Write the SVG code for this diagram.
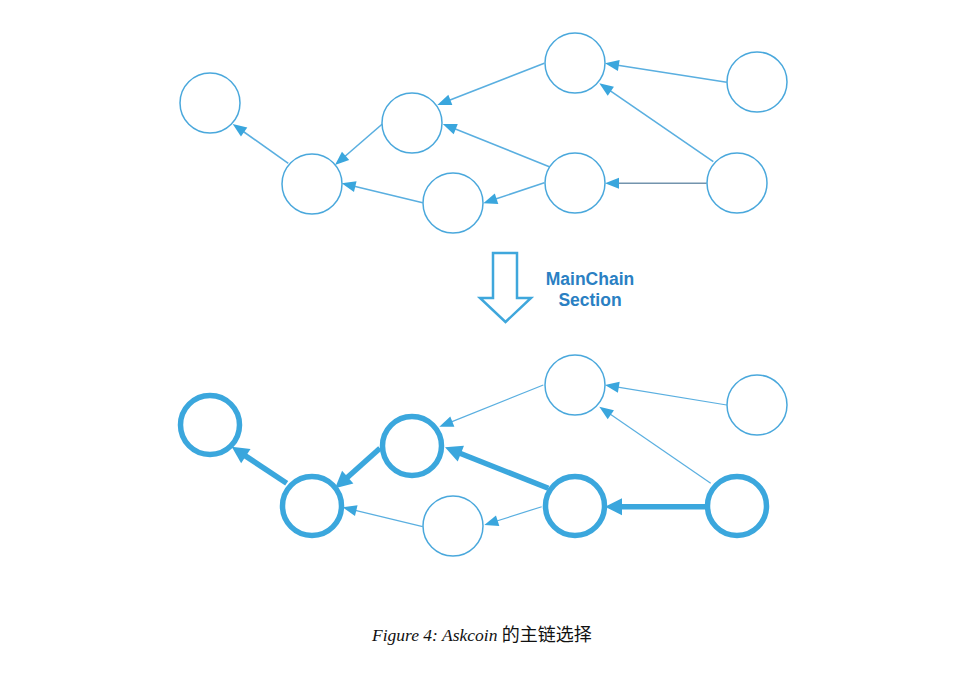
<svg xmlns="http://www.w3.org/2000/svg" width="978" height="695" viewBox="0 0 978 695">
<style>
.n{fill:#fff;stroke:#4aa8dc;stroke-width:1.5}
.nt{fill:#fff;stroke:#3ba7dd;stroke-width:5.5}
.e{fill:none;stroke:#5aafe0;stroke-width:1.6;marker-end:url(#ah)}
.eg{fill:none;stroke:#7394ad;stroke-width:1.6;marker-end:url(#ah)}
.e2{fill:none;stroke:#5aafe0;stroke-width:1.2;marker-end:url(#ah)}
.et{fill:none;stroke:#3ba7dd;stroke-width:5.5;marker-end:url(#aht)}
.lbl{font-family:"Liberation Sans",Arial,sans-serif;font-weight:bold;font-size:17.5px;fill:#2a80c3;text-anchor:middle}
.cap{font-family:"Liberation Serif","Times New Roman",serif;font-style:italic;font-size:17.5px;fill:#111}
.cjk{font-family:"Noto Sans CJK SC","Noto Sans CJK JP",sans-serif;font-style:normal;font-size:18px;fill:#111}
</style>
<defs>
<marker id="ah" markerUnits="userSpaceOnUse" markerWidth="15" markerHeight="12" refX="1" refY="5.5" orient="auto" overflow="visible">
<path d="M0,0 L14,5.5 L0,11 z" fill="#3aa6dd"/>
</marker>
<marker id="aht" markerUnits="userSpaceOnUse" markerWidth="18" markerHeight="18" refX="1" refY="8.5" orient="auto" overflow="visible">
<path d="M0,0 L17,8.5 L0,17 z" fill="#3aa6dd"/>
</marker>
</defs>
<rect width="978" height="695" fill="#fff"/>

<g id="connectors">
<!-- top graph -->
<line class="e" x1="288.3" y1="163.3" x2="243.3" y2="131.5"/>
<line class="e" x1="382.3" y1="124" x2="344.8" y2="156.5"/>
<line class="e" x1="422.7" y1="202.7" x2="354.3" y2="186.3"/>
<line class="e" x1="544.3" y1="63.3" x2="449.4" y2="100.3"/>
<line class="e" x1="549.3" y1="166.7" x2="454.8" y2="128.8"/>
<line class="e" x1="544.3" y1="182.7" x2="495.6" y2="199.1"/>
<line class="e" x1="726.7" y1="82.3" x2="617.8" y2="65.3"/>
<line class="e" x1="713.3" y1="161.7" x2="610" y2="90.7"/>
<line class="eg" x1="706.7" y1="183.3" x2="618" y2="183.3"/>
<!-- bottom graph -->
<line class="e2" x1="422.7" y1="526.7" x2="355.3" y2="510.4"/>
<line class="e2" x1="543.3" y1="385" x2="451.4" y2="421.9"/>
<line class="e2" x1="541.7" y1="506.7" x2="496.7" y2="521"/>
<line class="e2" x1="726.7" y1="405" x2="617.8" y2="387.1"/>
<line class="e2" x1="710.7" y1="483.3" x2="610" y2="414.1"/>
<line class="et" x1="286.7" y1="483.3" x2="245" y2="455.6"/>
<line class="et" x1="380" y1="448.3" x2="347" y2="477.7"/>
<line class="et" x1="548.3" y1="488.3" x2="459.9" y2="453.2"/>
<line class="et" x1="705" y1="506.7" x2="621" y2="506.7"/>
</g>

<g id="top-A"><circle class="n" cx="210" cy="103" r="30"/></g>
<g id="top-B"><circle class="n" cx="312" cy="184" r="30"/></g>
<g id="top-C"><circle class="n" cx="412" cy="123" r="30"/></g>
<g id="top-D"><circle class="n" cx="453" cy="203" r="30"/></g>
<g id="top-E"><circle class="n" cx="575" cy="63" r="30"/></g>
<g id="top-F"><circle class="n" cx="575" cy="183" r="30"/></g>
<g id="top-G"><circle class="n" cx="757" cy="82" r="30"/></g>
<g id="top-H"><circle class="n" cx="737" cy="183" r="30"/></g>

<g id="bot-A"><circle class="nt" cx="210" cy="425" r="29.5"/></g>
<g id="bot-B"><circle class="nt" cx="312" cy="506" r="29.5"/></g>
<g id="bot-C"><circle class="nt" cx="412" cy="446" r="29.5"/></g>
<g id="bot-D"><circle class="n" cx="453" cy="526" r="30"/></g>
<g id="bot-E"><circle class="n" cx="575" cy="385" r="30"/></g>
<g id="bot-F"><circle class="nt" cx="575" cy="506" r="29.5"/></g>
<g id="bot-G"><circle class="n" cx="757" cy="405" r="30"/></g>
<g id="bot-H"><circle class="nt" cx="737" cy="506" r="29.5"/></g>

<g id="transition">
<polygon points="493,253 517,253 517,298 531,298 505.5,322 480,298 493,298" fill="#fff" stroke="#3fa7dc" stroke-width="2.5" stroke-linejoin="miter"/>
<text class="lbl" x="590" y="285">MainChain</text>
<text class="lbl" x="590" y="306">Section</text>
</g>

<g id="caption">
<text class="cap" x="372" y="641">Figure 4: Askcoin <tspan class="cjk">的主链选择</tspan></text>
</g>
</svg>
